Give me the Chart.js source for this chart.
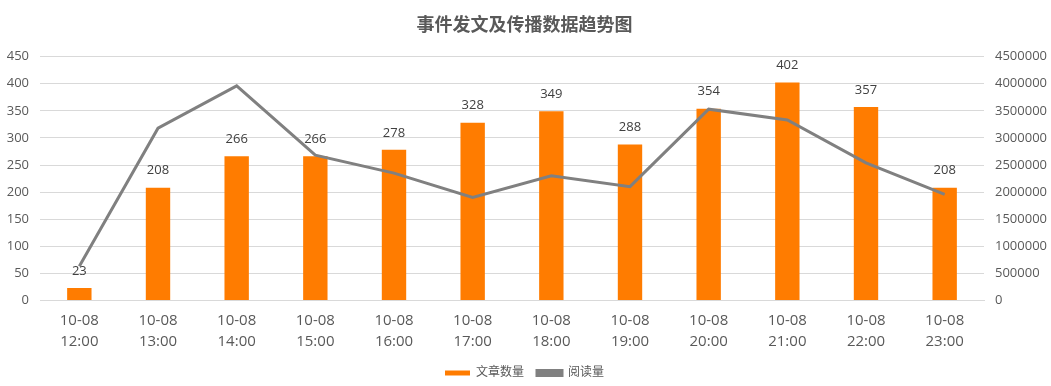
<!DOCTYPE html>
<html>
<head>
<meta charset="utf-8">
<script src="https://cdn.jsdelivr.net/npm/chart.js@4/dist/chart.umd.min.js"></script>
<style>
  html, body { margin: 0; padding: 0; background: #fff; }
  #wrap { width: 1051px; height: 386px; position: relative; }
</style>
</head>
<body>
<div id="wrap"><canvas id="grafico"></canvas></div>
<script>
// datos
const fechas = ['10-08','10-08','10-08','10-08','10-08','10-08','10-08','10-08','10-08','10-08','10-08','10-08']
const horas = ['12:00','13:00','14:00','15:00','16:00','17:00','18:00','19:00','20:00','21:00','22:00','23:00']
const articulos = [23, 208, 266, 266, 278, 328, 349, 288, 354, 402, 357, 208]
const lecturas = [630000, 3180000, 3960000, 2680000, 2350000, 1900000, 2300000, 2100000, 3530000, 3330000, 2540000, 1960000]
const ticks_izq = [0, 50, 100, 150, 200, 250, 300, 350, 400, 450]
const ticks_der = [0, 500000, 1000000, 1500000, 2000000, 2500000, 3000000, 3500000, 4000000, 4500000]

const FUENTE = "'Open Sans', 'Noto Sans CJK SC', sans-serif"
const GRIS_TXT = '#595959'

let etiquetas = fechas.map((f, i) => [f, horas[i]])

// etiquetas encima de las barras
const etiquetasBarras = {
  id: 'etiquetasBarras',
  afterDatasetsDraw(chart) {
    let ctx = chart.ctx
    let meta = chart.getDatasetMeta(0)
    ctx.save()
    ctx.font = '13px ' + FUENTE
    ctx.fillStyle = '#404040'
    ctx.textAlign = 'center'
    ctx.textBaseline = 'middle'
    meta.data.forEach((bar, i) => {
      ctx.fillText(articulos[i], bar.x, bar.y - 17)
    })
    ctx.restore()
  }
}

let ctx = document.getElementById('grafico').getContext('2d')
let grafico = new Chart(ctx, {
  type: 'bar',
  data: {
    labels: etiquetas,
    datasets: [{
      label: '文章数量',
      data: articulos,
      backgroundColor: '#FF7C00',
      borderWidth: 0,
      yAxisID: 'y',
      barPercentage: 0.31,
      categoryPercentage: 1,
      order: 2
    }, {
      type: 'line',
      label: '阅读量',
      data: lecturas,
      borderColor: '#808080',
      backgroundColor: '#808080',
      borderWidth: 3,
      pointRadius: 0,
      tension: 0,
      yAxisID: 'y1',
      order: 1
    }]
  },
  options: {
    responsive: true,
    maintainAspectRatio: false,
    animation: false,
    layout: { padding: { left: 0, right: 2, top: 4, bottom: -3 } },
    plugins: {
      title: {
        display: true,
        text: '事件发文及传播数据趋势图',
        color: GRIS_TXT,
        font: { family: FUENTE, size: 18, weight: 'bold' },
        padding: { top: 11, bottom: 20 }
      },
      legend: {
        position: 'bottom',
        labels: {
          color: GRIS_TXT,
          font: { family: FUENTE, size: 12 },
          boxWidth: 25,
          boxHeight: 5,
          padding: 13,
          sort: (a, b) => a.datasetIndex - b.datasetIndex
        }
      },
      tooltip: { enabled: false }
    },
    scales: {
      x: {
        grid: { display: false },
        border: { color: '#d9d9d9' },
        ticks: { color: GRIS_TXT, font: { family: FUENTE, size: 15, lineHeight: 1.45 }, maxRotation: 0, padding: 1 }
      },
      y: {
        position: 'left',
        min: 0,
        max: 450,
        afterBuildTicks(axis) { axis.ticks = ticks_izq.map(v => ({ value: v })) },
        afterFit(axis) { axis.width = 40 },
        grid: { color: '#d9d9d9', drawTicks: false },
        border: { display: false },
        ticks: { color: GRIS_TXT, font: { family: FUENTE, size: 13 }, padding: 11 }
      },
      y1: {
        position: 'right',
        min: 0,
        max: 4500000,
        afterBuildTicks(axis) { axis.ticks = ticks_der.map(v => ({ value: v })) },
        afterFit(axis) { axis.width = 65 },
        grid: { display: false, drawTicks: false },
        border: { display: false },
        ticks: { color: GRIS_TXT, font: { family: FUENTE, size: 13 }, padding: 11,
          callback: v => String(v) }
      }
    }
  },
  plugins: [etiquetasBarras]
})
</script>
</body>
</html>
